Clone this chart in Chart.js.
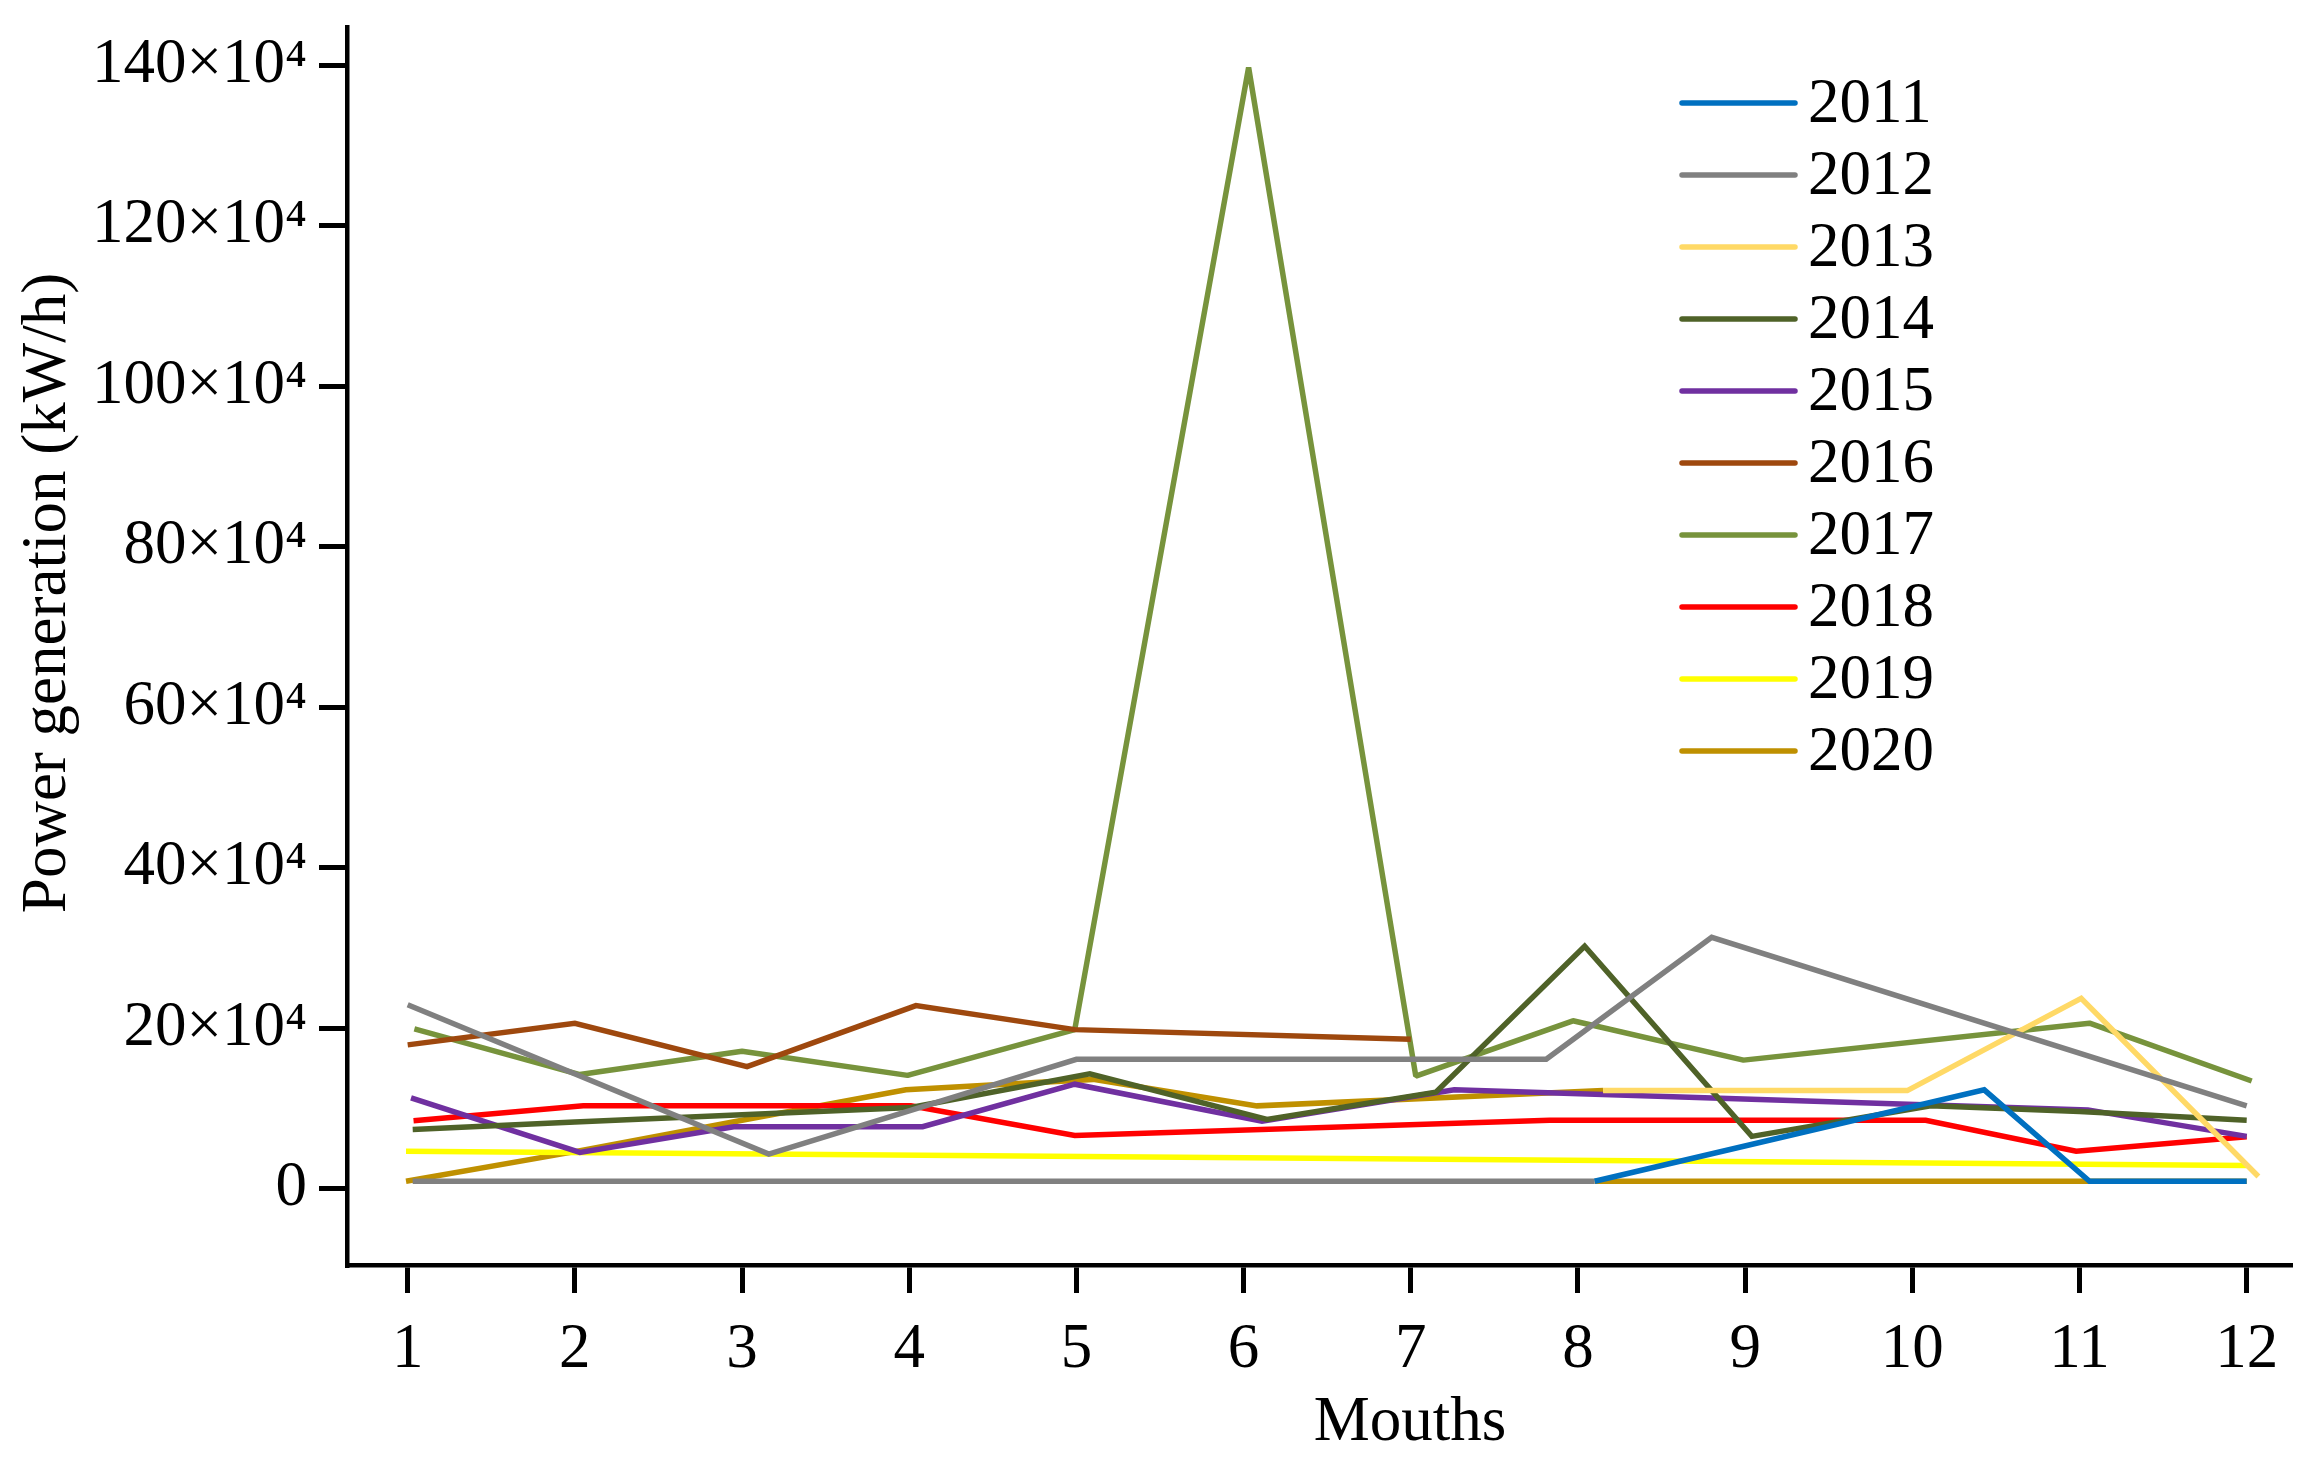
<!DOCTYPE html>
<html>
<head>
<meta charset="utf-8">
<style>
html,body{margin:0;padding:0;background:#ffffff;}
#wrap{width:2315px;height:1469px;position:relative;}
</style>
<script src="https://cdn.jsdelivr.net/npm/chart.js@4/dist/chart.umd.min.js"></script>
</head>
<body>
<div id="wrap"><canvas id="c" width="2315" height="1469"></canvas></div>
<script>
// ---- Data (values in ×10^4 kW/h); a null entry breaks the line ----
const seriesLabels = ['2011','2012','2013','2014','2015','2016','2017','2018','2019','2020'];
const seriesColors = ['#0070C0','#808080','#FFD966','#4F6228','#7030A0','#9E480E','#77933C','#FF0000','#FFFF00','#BF9000'];
const monthTicks = [1,2,3,4,5,6,7,8,9,10,11,12];
const yTicks = [0,20,40,60,80,100,120,140];
const xTitle = 'Mouths';
const yTitle = 'Power generation (kW/h)';

const x2011 = [8.1, 10.43, 11.06, 12.0];
const y2011 = [0.9, 12.3, 0.9, 0.9];
const x2012 = [1.03, 8.1, null, 1.0, 3.16, 5.0, 7.81, 8.8, 12.0];
const y2012 = [0.9, 0.9, null, 22.9, 4.3, 16.1, 16.1, 31.3, 10.3];
const x2013 = [8.15, 9.97, 11.01, 12.07];
const y2013 = [12.2, 12.2, 23.7, 1.5];
const x2014 = [1.03, 2, 3, 4.01, 5.08, 6.14, 7.15, 8.04, 9.04, 10.11, 11, 12];
const y2014 = [7.35, 8.3, 9.2, 10.1, 14.3, 8.6, 12.0, 30.2, 6.5, 10.3, 9.6, 8.5];
const x2015 = [1.02, 2.03, 2.95, 4.08, 4.99, 6.11, 7.26, 11.05, 12];
const y2015 = [11.3, 4.5, 7.7, 7.7, 13.0, 8.4, 12.3, 9.8, 6.5];
const x2016 = [1.0, 2.0, 3.03, 4.04, 4.99, 7.0];
const y2016 = [17.9, 20.6, 15.2, 22.8, 19.8, 18.6];
const x2017 = [1.04, 2.03, 3.0, 3.99, 4.99, 6.03, 7.03, 7.97, 8.99, 11.06, 12.03];
const y2017 = [19.9, 14.2, 17.1, 14.1, 19.8, 139.7, 14.0, 20.9, 16.0, 20.6, 13.4];
const x2018 = [1.035, 2.05, 4.01, 4.99, 7.83, 10.08, 10.98, 12];
const y2018 = [8.45, 10.3, 10.3, 6.6, 8.5, 8.5, 4.65, 6.45];
const x2019 = [0.99, 12];
const y2019 = [4.65, 2.87];
const x2020 = [0.99, 2, 3, 3.98, 5.1, 6.08, 8.15, null, 8.1, 12];
const y2020 = [0.9, 4.6, 8.5, 12.3, 13.6, 10.3, 12.2, null, 0.9, 0.9];

const seriesX = [x2011,x2012,x2013,x2014,x2015,x2016,x2017,x2018,x2019,x2020];
const seriesY = [y2011,y2012,y2013,y2014,y2015,y2016,y2017,y2018,y2019,y2020];

const FONT = '"Liberation Serif", "Times New Roman", serif';

const datasets = seriesLabels.map((lab, i) => ({
  label: lab,
  data: seriesX[i].map((x, j) => ({x: x, y: seriesY[i][j]})),
  borderColor: seriesColors[i],
  backgroundColor: seriesColors[i],
  borderWidth: 5.5,
  borderJoinStyle: lab === '2017' ? 'bevel' : 'miter',
  pointRadius: 0,
  tension: 0,
  fill: false,
  spanGaps: false
}));

const decor = {
  id: 'decor',
  afterDraw(chart) {
    const ctx = chart.ctx;
    ctx.save();
    ctx.fillStyle = '#000';
    ctx.font = '63px ' + FONT;
    // x axis title
    ctx.textAlign = 'center';
    ctx.textBaseline = 'alphabetic';
    ctx.fillText(xTitle, 1410, 1440);
    // y axis title
    ctx.save();
    ctx.translate(65, 593);
    ctx.rotate(-Math.PI / 2);
    ctx.textAlign = 'center';
    ctx.textBaseline = 'alphabetic';
    ctx.fillText(yTitle, 0, 0);
    ctx.restore();
    // legend
    chart.data.datasets.forEach((ds, i) => {
      const ly = 103 + i * 72;
      ctx.beginPath();
      ctx.lineWidth = 5.5;
      ctx.lineCap = 'round';
      ctx.strokeStyle = ds.borderColor;
      ctx.moveTo(1682, ly);
      ctx.lineTo(1795, ly);
      ctx.stroke();
      ctx.textAlign = 'left';
      ctx.fillStyle = '#000';
      ctx.fillText(ds.label, 1808, ly + 18.5);
    });
    ctx.restore();
  }
};

new Chart(document.getElementById('c'), {
  type: 'line',
  data: { datasets: datasets },
  plugins: [decor],
  options: {
    responsive: false,
    animation: false,
    devicePixelRatio: 1,
    layout: { padding: { left: 0, top: 27, right: 25, bottom: 0 } },
    plugins: { legend: { display: false }, tooltip: { enabled: false }, title: { display: false } },
    scales: {
      x: {
        type: 'linear',
        min: 0.637,
        max: 12.259,
        afterBuildTicks: s => { s.ticks = monthTicks.map(v => ({ value: v })); },
        afterFit: s => { s.height = 204; s.paddingLeft = 0; s.paddingRight = 0; s.paddingTop = 0; s.paddingBottom = 0; },
        grid: { display: true, drawOnChartArea: false, drawTicks: true, tickLength: 28, tickWidth: 5, tickColor: '#000', lineWidth: 5, color: '#000' },
        border: { display: true, color: '#000', width: 4.5 },
        ticks: { color: '#000', font: { family: FONT, size: 63 }, padding: 20, maxRotation: 0, autoSkip: false, callback: v => String(v) }
      },
      y: {
        type: 'linear',
        min: -9.53,
        max: 144.74,
        afterBuildTicks: s => { s.ticks = yTicks.map(v => ({ value: v })); },
        afterFit: s => { s.width = 347; s.paddingTop = 0; s.paddingBottom = 0; s.paddingLeft = 0; s.paddingRight = 0; },
        grid: { display: true, drawOnChartArea: false, drawTicks: true, tickLength: 28, tickWidth: 5, tickColor: '#000', lineWidth: 5, color: '#000' },
        border: { display: true, color: '#000', width: 4.5 },
        ticks: { color: '#000', font: { family: FONT, size: 63 }, padding: 12, autoSkip: false, callback: v => (v === 0 ? '0' : v + '×10⁴') }
      }
    }
  }
});
</script>
</body>
</html>
